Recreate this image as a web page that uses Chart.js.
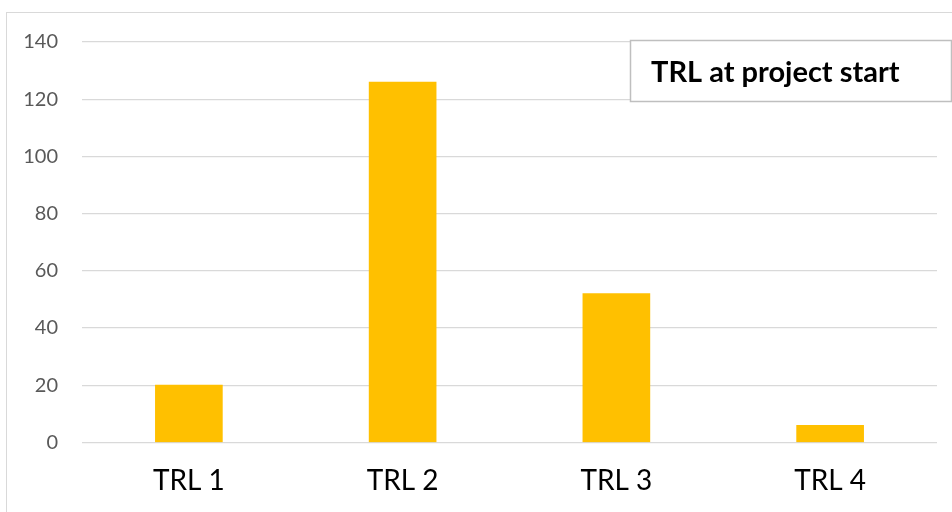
<!DOCTYPE html>
<html>
<head>
<meta charset="utf-8">
<script src="https://cdn.jsdelivr.net/npm/chart.js@4"></script>
<style>
html,body{margin:0;padding:0;background:#fff;}
#wrap{width:952px;height:512px;position:relative;}
</style>
</head>
<body>
<div id="wrap"><canvas id="c" width="952" height="512"></canvas></div>
<script>
const categories = ["TRL 1", "TRL 2", "TRL 3", "TRL 4"];
const values = [20, 126, 52, 6];
const yTicks = [0, 20, 40, 60, 80, 100, 120, 140];
const titleText = "TRL at project start";

const frame = {
  id: 'frame',
  beforeDraw(chart) {
    const ctx = chart.ctx;
    ctx.save();
    ctx.fillStyle = '#fff';
    ctx.fillRect(0, 0, chart.width, chart.height);
    ctx.strokeStyle = '#d9d9d9';
    ctx.lineWidth = 1;
    ctx.strokeRect(6.5, 12.5, 1000, 600);
    ctx.restore();
  },
  afterDraw(chart) {
    const ctx = chart.ctx;
    ctx.save();
    ctx.fillStyle = '#fff';
    ctx.fillRect(630, 40, 322, 62);
    ctx.strokeStyle = '#bfbfbf';
    ctx.lineWidth = 1.5;
    ctx.strokeRect(630.5, 40.5, 321, 61);
    ctx.fillStyle = '#000';
    ctx.font = 'bold 29px Lato';
    ctx.textBaseline = 'alphabetic';
    ctx.textAlign = 'left';
    ctx.fillText(titleText, 651, 82);
    ctx.restore();
  }
};

new Chart(document.getElementById('c'), {
  type: 'bar',
  data: {
    labels: categories,
    datasets: [{
      data: values,
      backgroundColor: '#FFC000',
      borderWidth: 0,
      barThickness: 67
    }]
  },
  options: {
    responsive: false,
    animation: false,
    devicePixelRatio: 1,
    layout: { padding: { top: 42, right: 15, bottom: 0, left: 0 } },
    plugins: { legend: { display: false }, tooltip: { enabled: false }, title: { display: false } },
    scales: {
      x: {
        grid: { display: false },
        border: { display: false },
        ticks: { color: '#000', font: { family: 'Lato', size: 28 }, padding: 14 }
      },
      y: {
        min: 0, max: 140,
        afterBuildTicks(scale) { scale.ticks = yTicks.map(v => ({ value: v })); },
        afterFit(scale) { scale.width = 82; },
        grid: { color: '#d9d9d9', lineWidth: 1.2, drawTicks: false },
        border: { display: false },
        ticks: { color: '#595959', font: { family: 'Lato', size: 20 }, padding: 24 }
      }
    }
  },
  plugins: [frame]
});
</script>
</body>
</html>
